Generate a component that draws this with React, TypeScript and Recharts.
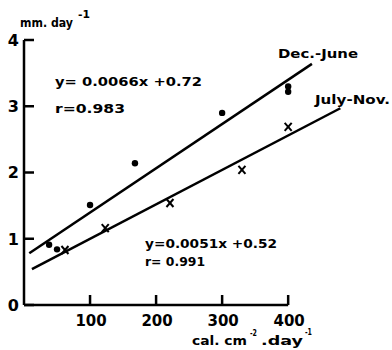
import { ComposedChart, Line, Scatter, XAxis, YAxis, ReferenceLine } from 'recharts';

// Dec.-June measurements (dots)
const decJune = [
  { x: 38, y: 0.91 },
  { x: 50, y: 0.84 },
  { x: 100, y: 1.51 },
  { x: 168, y: 2.14 },
  { x: 300, y: 2.9 },
  { x: 400, y: 3.3 },
  { x: 400, y: 3.22 },
];

// July-Nov. measurements (crosses)
const julyNov = [
  { x: 62, y: 0.83 },
  { x: 123, y: 1.16 },
  { x: 221, y: 1.54 },
  { x: 330, y: 2.04 },
  { x: 400, y: 2.69 },
];

// regression lines, end points as drawn
const decJuneFit = [
  { x: 8, y: 0.78 },
  { x: 436, y: 3.64 },
];
const julyNovFit = [
  { x: 12, y: 0.54 },
  { x: 479, y: 2.97 },
];

const xTicks = [100, 200, 300, 400];
const yTicks = [0, 1, 2, 3, 4];

const FONT = 'DejaVu Sans';

const YTick = ({ x, y, payload }) => (
  <g>
    <line x1={x + 5} x2={x + 15} y1={y} y2={y} stroke="#000" strokeWidth={2.5} />
    <text x={x} y={y} dy="0.36em" textAnchor="end" fontSize={16} fontFamily={FONT} fontWeight="bold" fill="#000">
      {payload.value}
    </text>
  </g>
);

const XTick = ({ x, y, payload }) => (
  <g>
    <line x1={x} x2={x} y1={y - 10} y2={y - 20} stroke="#000" strokeWidth={2.5} />
    <text x={x + 1} y={y} dy="0.7em" textAnchor="middle" fontSize={15} fontFamily={FONT} fontWeight="bold" fill="#000">
      {payload.value}
    </text>
  </g>
);

const Dot = ({ cx, cy }) => <circle cx={cx} cy={cy} r={3.2} fill="#000" />;

const Cross = ({ cx, cy }) => (
  <g stroke="#000" strokeWidth={2}>
    <line x1={cx - 3.5} y1={cy - 4} x2={cx + 3.5} y2={cy + 4} />
    <line x1={cx - 3.5} y1={cy + 4} x2={cx + 3.5} y2={cy - 4} />
  </g>
);

// text stretched to the width it has in the drawing
const Txt = ({ x, y, size = 13, len, children }) => (
  <text
    x={x}
    y={y}
    fontSize={size}
    fontFamily={FONT}
    fontWeight="bold"
    fill="#000"
    textLength={len}
    lengthAdjust="spacingAndGlyphs"
  >
    {children}
  </text>
);

export default function App() {
  return (
    <div style={{ position: 'absolute', left: 0, top: 0, background: '#fff' }}>
      <ComposedChart width={392} height={350} margin={{ top: 40, right: 51, bottom: 0, left: 0 }}>
        <XAxis
          type="number"
          dataKey="x"
          domain={[0, 480]}
          ticks={xTicks}
          axisLine={false}
          tickLine={false}
          tickSize={0}
          tickMargin={10}
          height={45}
          tick={<XTick />}
        />
        <YAxis
          type="number"
          dataKey="y"
          domain={[0, 4]}
          ticks={yTicks}
          width={24}
          axisLine={{ stroke: '#000', strokeWidth: 2.5 }}
          tickLine={false}
          tickSize={0}
          tickMargin={5}
          tick={<YTick />}
        />
        <ReferenceLine
          segment={[{ x: 0, y: 0 }, { x: 400, y: 0 }]}
          stroke="#000"
          strokeWidth={2.5}
        />
        <Line data={decJuneFit} dataKey="y" stroke="#000" strokeWidth={2.5} dot={false} isAnimationActive={false} />
        <Line data={julyNovFit} dataKey="y" stroke="#000" strokeWidth={2.5} dot={false} isAnimationActive={false} />
        <Scatter data={decJune} dataKey="y" shape={<Dot />} isAnimationActive={false} />
        <Scatter data={julyNov} dataKey="y" shape={<Cross />} isAnimationActive={false} />

        <Txt x={20} y={27} size={12} len={53}>mm. day</Txt>
        <Txt x={78} y={18} size={10} len={12}>-1</Txt>
        <Txt x={55} y={86} len={147}>y= 0.0066x +0.72</Txt>
        <Txt x={55} y={113} len={70}>r=0.983</Txt>
        <Txt x={145} y={248} len={132}>y=0.0051x +0.52</Txt>
        <Txt x={145} y={266} len={60}>r= 0.991</Txt>
        <Txt x={278} y={58} len={80}>Dec.-June</Txt>
        <Txt x={315} y={104} len={75}>July-Nov.</Txt>
        <Txt x={192} y={345} len={55}>cal. cm</Txt>
        <Txt x={250} y={336} size={9} len={7}>-2</Txt>
        <Txt x={261} y={345} len={42}>.day</Txt>
        <Txt x={305} y={335} size={9} len={7}>-1</Txt>
      </ComposedChart>
    </div>
  );
}
